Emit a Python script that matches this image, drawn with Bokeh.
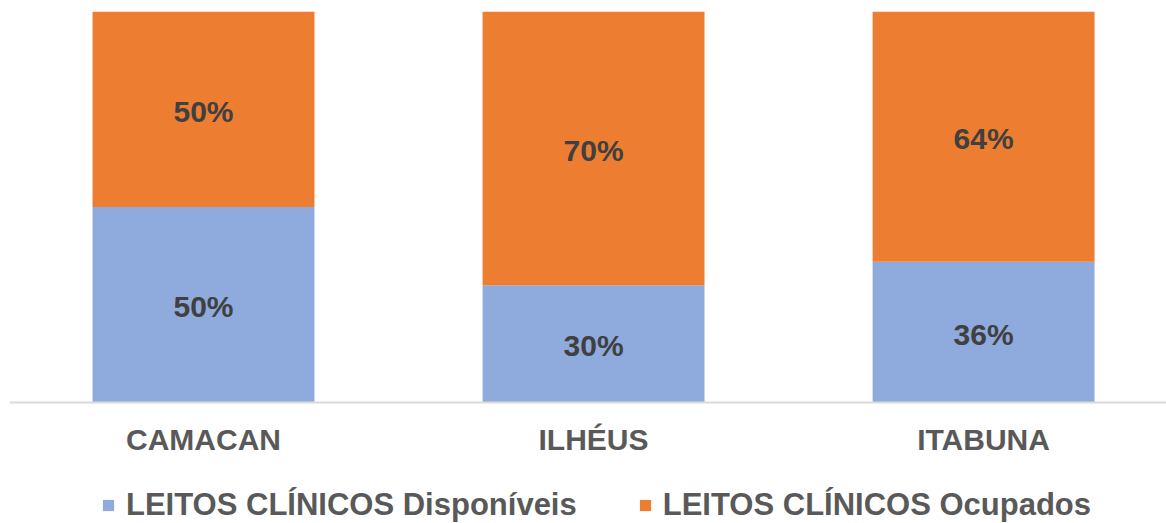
from bokeh.plotting import figure
from bokeh.models import ColumnDataSource, Range1d, FixedTicker, Legend, LegendItem, LabelSet, LinearAxis
from bokeh.core.properties import value
from bokeh.embed import file_html
from bokeh.resources import INLINE

categories = ["CAMACAN", "ILHÉUS", "ITABUNA"]
disponiveis = [0.50, 0.30, 0.36]
ocupados = [0.50, 0.70, 0.64]
series_names = ["LEITOS CLÍNICOS Disponíveis", "LEITOS CLÍNICOS Ocupados"]

BLUE = "#8FAADC"
ORANGE = "#ED7D31"
FONT = "Liberation Sans"

xs = list(range(len(categories)))
src = ColumnDataSource(dict(
    x=xs,
    disp=disponiveis,
    ocup=ocupados,
    top_ocup=[a + b for a, b in zip(disponiveis, ocupados)],
    mid_disp=[a / 2 for a in disponiveis],
    mid_ocup=[a + b / 2 for a, b in zip(disponiveis, ocupados)],
    lab_disp=[f"{round(v*100)}%" for v in disponiveis],
    lab_ocup=[f"{round(v*100)}%" for v in ocupados],
))

p = figure(width=1166, height=523, output_backend="svg", toolbar_location=None,
           x_range=Range1d(-0.4974, 2.469), y_range=Range1d(-0.30946, 1),
           x_axis_location=None, y_axis_location=None,
           min_border_left=9, min_border_right=0, min_border_top=11, min_border_bottom=0)
p.outline_line_color = None
p.grid.visible = False

r1 = p.vbar(x="x", bottom=0, top="disp", width=0.569, source=src, fill_color=BLUE, line_color=None)
r2 = p.vbar(x="x", bottom="disp", top="top_ocup", width=0.569, source=src, fill_color=ORANGE, line_color=None)

for ycol, tcol in (("mid_disp", "lab_disp"), ("mid_ocup", "lab_ocup")):
    p.add_layout(LabelSet(x="x", y=ycol, text=tcol, source=src, text_align="center",
                          text_baseline="middle", y_offset=-2, text_font=value(FONT),
                          text_font_style="bold", text_font_size="30px", text_color="#404040"))

ax = LinearAxis(fixed_location=0)
ax.ticker = FixedTicker(ticks=xs)
ax.major_label_overrides = {i: c for i, c in enumerate(categories)}
ax.major_tick_line_color = None
ax.minor_tick_line_color = None
ax.axis_line_color = "#D9D9D9"
ax.axis_line_width = 2
ax.major_label_text_font = FONT
ax.major_label_text_font_style = "bold"
ax.major_label_text_font_size = "30px"
ax.major_label_text_color = "#595959"
ax.major_label_standoff = 14
p.add_layout(ax, "below")

legend = Legend(items=[LegendItem(label=series_names[0], renderers=[r1]),
                       LegendItem(label=series_names[1], renderers=[r2])],
                orientation="horizontal", location=(92, 0),
                padding=0, margin=0, spacing=61, glyph_width=14, glyph_height=14,
                label_standoff=11, label_text_font=FONT, label_text_font_style="bold",
                label_text_font_size="31px", label_text_color="#595959",
                background_fill_alpha=0, border_line_color=None, label_height=30)
p.add_layout(legend, "center")

open("out.html", "w").write(file_html(p, INLINE))
